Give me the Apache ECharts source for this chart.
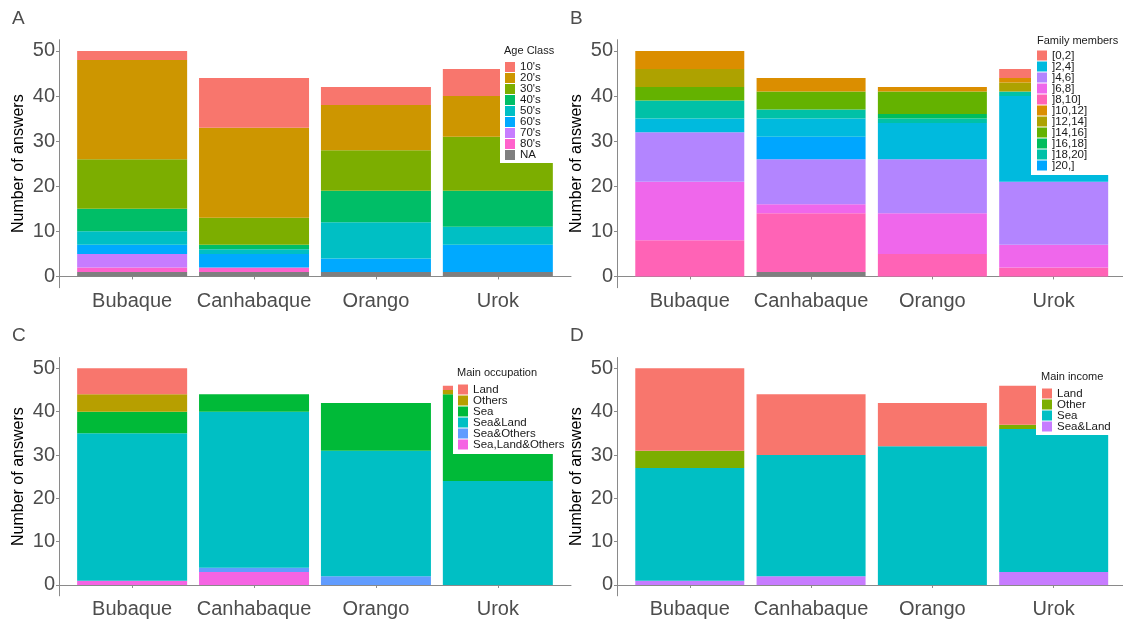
<!DOCTYPE html>
<html>
<head>
<meta charset="utf-8">
<script src="https://cdn.jsdelivr.net/npm/echarts@6/dist/echarts.min.js"></script>
<style>
html,body{margin:0;padding:0;background:#fff;}
#chart{width:1123px;height:620px;}
</style>
</head>
<body>
<div id="chart"></div>
<script>
// ---------- DATA ----------
const categories = ['Bubaque', 'Canhabaque', 'Orango', 'Urok'];
const yTicks = [0, 10, 20, 30, 40, 50];

// Panel A: Age Class
const ageNames = ["10's", "20's", "30's", "40's", "50's", "60's", "70's", "80's", "NA"];
const age10 = [2, 11, 4, 6];
const age20 = [22, 20, 10, 9];
const age30 = [11, 6, 9, 12];
const age40 = [5, 1, 7, 8];
const age50 = [3, 1, 8, 4];
const age60 = [2, 3, 3, 6];
const age70 = [3, 0, 0, 0];
const age80 = [1, 1, 0, 0];
const ageNA = [1, 1, 1, 1];

// Panel B: Family members
const famNames = ['[0,2]', ']2,4]', ']4,6]', ']6,8]', ']8,10]', ']10,12]', ']12,14]', ']14,16]', ']16,18]', ']18,20]', ']20,]'];
const fam0_2 = [0, 0, 0, 2];
const fam2_4 = [3, 4, 8, 19];
const fam4_6 = [11, 10, 12, 14];
const fam6_8 = [13, 2, 9, 5];
const fam8_10 = [8, 13, 5, 2];
const fam10_12 = [4, 3, 1, 1];
const fam12_14 = [4, 0, 0, 2];
const fam14_16 = [3, 4, 5, 0];
const fam16_18 = [0, 0, 1, 0];
const fam18_20 = [4, 2, 1, 1];
const fam20 = [0, 5, 0, 0];
const famNA = [0, 1, 0, 0];

// Panel C: Main occupation
const occNames = ['Land', 'Others', 'Sea', 'Sea&Land', 'Sea&Others', 'Sea,Land&Others'];
const occLand = [6, 0, 0, 1];
const occOthers = [4, 0, 0, 1];
const occSea = [5, 4, 11, 20];
const occSeaLand = [34, 36, 29, 24];
const occSeaOthers = [0, 1, 2, 0];
const occSeaLandOthers = [1, 3, 0, 0];

// Panel D: Main income
const incNames = ['Land', 'Other', 'Sea', 'Sea&Land'];
const incLand = [19, 14, 10, 9];
const incOther = [4, 0, 0, 1];
const incSea = [26, 28, 32, 33];
const incSeaLand = [1, 2, 0, 3];

// ---------- STYLE ----------
const FONT = '"Liberation Sans", Arial, sans-serif';
const AXIS_GRAY = '#8a8a8a';
const TXT_GRAY = '#4d4d4d';

const colorsA = {"10's":'#F8766D',"20's":'#CD9600',"30's":'#7CAE00',"40's":'#00BE67',"50's":'#00BFC4',"60's":'#00A9FF',"70's":'#C77CFF',"80's":'#FF61CC','NA':'#7F7F7F'};
const colorsB = {'[0,2]':'#F8766D',']10,12]':'#DB8E00',']12,14]':'#AEA200',']14,16]':'#64B200',']16,18]':'#00BD5C',']18,20]':'#00C1A7',']2,4]':'#00BADE',']20,]':'#00A6FF',']4,6]':'#B385FF',']6,8]':'#EF67EB',']8,10]':'#FF63B6','NA':'#7F7F7F'};
const colorsC = {'Land':'#F8766D','Others':'#B79F00','Sea':'#00BA38','Sea&Land':'#00BFC4','Sea&Others':'#619CFF','Sea,Land&Others':'#F564E3'};
const colorsD = {'Land':'#F8766D','Other':'#7CAE00','Sea':'#00BFC4','Sea&Land':'#C77CFF'};

// panel frames (axis lines, y ticks) and data areas (ggplot-like 0.6 expansion on x)
const unit = [121.9, 121.3, 121.9, 121.3];
const frames = [
  {left: 59, top: 39.7, width: 512, height: 248},
  {left: 617, top: 39.7, width: 506, height: 248},
  {left: 59, top: 357.5, width: 512, height: 238.3},
  {left: 617, top: 357.5, width: 506, height: 238.3}
];
const dataGrids = frames.map((f, i) => ({left: f.left + 0.1 * unit[i], top: f.top, width: 4 * unit[i], height: f.height}));
const barW = [110, 109, 110, 109];

const xAxes = [], yAxes = [];
frames.forEach((f, i) => {
  xAxes.push({
    type: 'value', gridIndex: i, min: 0, max: 1,
    splitLine: {show: false}, axisTick: {show: false}, axisLabel: {show: false},
    axisLine: {show: true, lineStyle: {color: AXIS_GRAY, width: 1}}
  });
  yAxes.push({
    type: 'value', gridIndex: i, min: -2.5, max: 52.5,
    splitLine: {show: false},
    axisLine: {show: true, lineStyle: {color: AXIS_GRAY, width: 1}},
    axisTick: {show: true, length: 3, customValues: yTicks, lineStyle: {color: AXIS_GRAY}},
    axisLabel: {show: true, customValues: yTicks, margin: 4, fontSize: 20, color: TXT_GRAY, fontFamily: FONT},
    name: 'Number of answers', nameLocation: 'middle', nameGap: 32,
    nameTextStyle: {fontSize: 16, color: '#000', fontFamily: FONT}
  });
});
dataGrids.forEach((g, i) => {
  xAxes.push({
    type: 'category', gridIndex: 4 + i, data: categories,
    axisLine: {show: false},
    axisTick: {show: true, interval: 0, alignWithLabel: true, length: 3, lineStyle: {color: AXIS_GRAY}},
    axisLabel: {show: true, interval: 0, hideOverlap: false, margin: 4, fontSize: 20, color: TXT_GRAY, fontFamily: FONT}
  });
  yAxes.push({type: 'value', gridIndex: 4 + i, min: -2.5, max: 52.5, show: false, splitLine: {show: false}});
});

function bar(i, name, values, color) {
  return {
    type: 'bar', name: name, xAxisIndex: 4 + i, yAxisIndex: 4 + i, stack: 'p' + i,
    barWidth: barW[i], itemStyle: {color: color},
    emphasis: {disabled: true},
    data: values
  };
}

const series = [];
// A (bottom -> top)
[['NA', ageNA], ["80's", age80], ["70's", age70], ["60's", age60], ["50's", age50], ["40's", age40], ["30's", age30], ["20's", age20], ["10's", age10]]
  .forEach(([n, v]) => series.push(bar(0, n, v, colorsA[n])));
// B
[['NA', famNA], [']8,10]', fam8_10], [']6,8]', fam6_8], [']4,6]', fam4_6], [']20,]', fam20], [']2,4]', fam2_4], [']18,20]', fam18_20], [']16,18]', fam16_18], [']14,16]', fam14_16], [']12,14]', fam12_14], [']10,12]', fam10_12], ['[0,2]', fam0_2]]
  .forEach(([n, v]) => series.push(bar(1, n, v, colorsB[n])));
// C
[['Sea,Land&Others', occSeaLandOthers], ['Sea&Others', occSeaOthers], ['Sea&Land', occSeaLand], ['Sea', occSea], ['Others', occOthers], ['Land', occLand]]
  .forEach(([n, v]) => series.push(bar(2, n, v, colorsC[n])));
// D
[['Sea&Land', incSeaLand], ['Sea', incSea], ['Other', incOther], ['Land', incLand]]
  .forEach(([n, v]) => series.push(bar(3, n, v, colorsD[n])));

function legend(names, colors, left, top, padding) {
  return {
    orient: 'vertical', left: left, top: top, padding: padding,
    backgroundColor: '#fff', itemWidth: 10, itemHeight: 10, itemGap: -1,
    selectedMode: false, icon: 'rect',
    textStyle: {fontSize: 11.5, color: '#1a1a1a', fontFamily: FONT, lineHeight: 11},
    data: names.map(n => ({name: n, itemStyle: {color: colors[n]}}))
  };
}

function label(text, left, top, size, color) {
  return {text: text, left: left, top: top, padding: 0,
    textStyle: {fontSize: size, fontWeight: 'normal', color: color, fontFamily: FONT}};
}

const option = {
  animation: false,
  backgroundColor: '#fff',
  title: [
    label('A', 12, 9, 19, TXT_GRAY),
    label('B', 570, 9, 19, TXT_GRAY),
    label('C', 12, 326, 19, TXT_GRAY),
    label('D', 570, 326, 19, TXT_GRAY),
    label('Age Class', 504, 45, 11, '#1a1a1a'),
    label('Family members', 1037, 35, 11, '#1a1a1a'),
    label('Main occupation', 457, 367, 11, '#1a1a1a'),
    label('Main income', 1041, 371, 11, '#1a1a1a')
  ],
  legend: [
    legend(ageNames, colorsA, 500, 42, [19, 22, 2, 5]),
    legend(famNames, colorsB, 1031, 33, [16.5, 40, 3.5, 6]),
    legend(occNames, colorsC, 453, 363, [20.5, 2, 3.5, 5]),
    legend(incNames, colorsD, 1036, 367, [20.5, 14, 2.5, 6])
  ],
  grid: frames.concat(dataGrids),
  xAxis: xAxes,
  yAxis: yAxes,
  series: series
};

const chart = echarts.init(document.getElementById('chart'), null, {renderer: 'canvas'});
chart.setOption(option);
</script>
</body>
</html>
